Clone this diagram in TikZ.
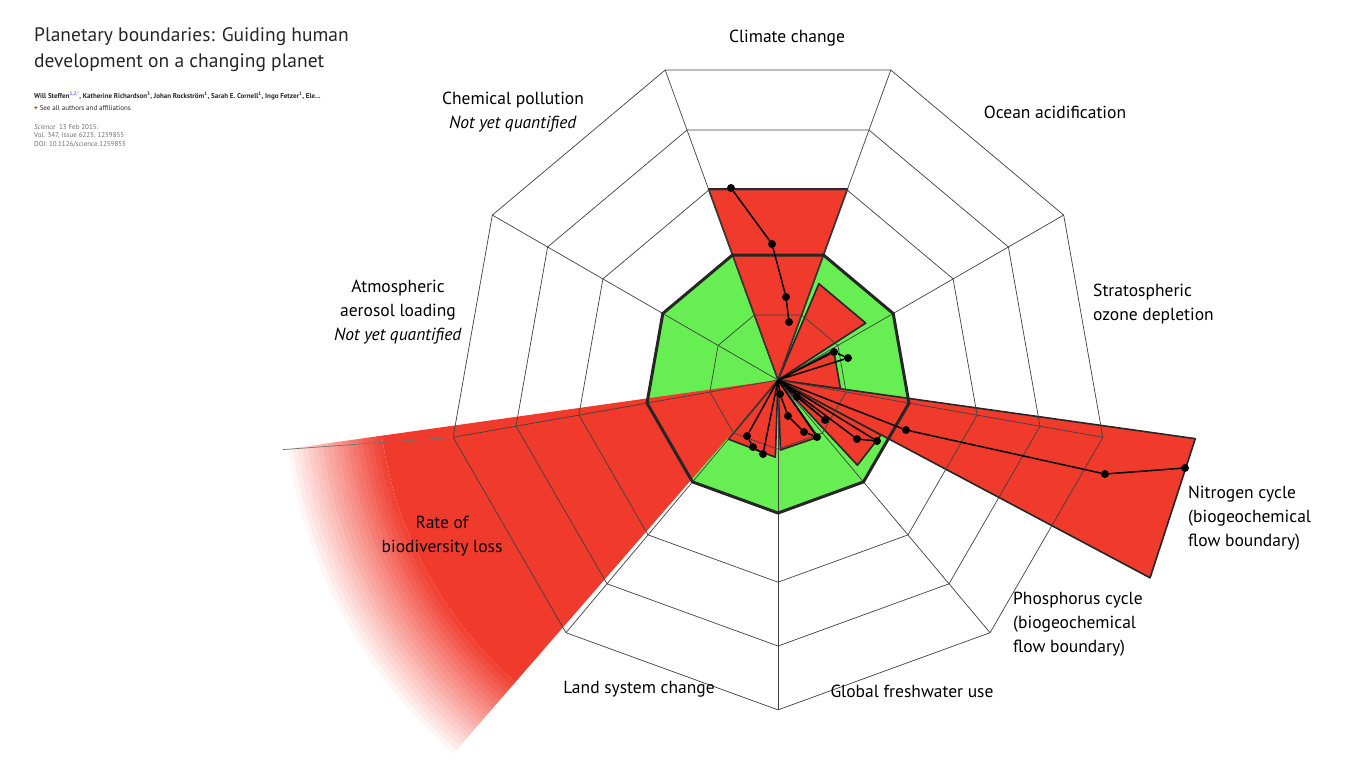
\documentclass[tikz,border=0pt]{standalone}
\usepackage{fontspec}
\setmainfont{PT Sans}
\usetikzlibrary{positioning}
\definecolor{pbred}{RGB}{240,58,44}
\definecolor{pbgreen}{RGB}{102,238,82}
\definecolor{pbgray}{RGB}{110,110,110}
\newcommand\pbwedge[4]{% mid, from, to, apothem
  \fill[pbred] (0,0) -- (#2:{#4/cos(#2-#1)}) -- (#1:#4) -- (#3:{#4/cos(#3-#1)}) -- cycle;
  \draw[wedgeline] (0,0) -- (#2:{#4/cos(#2-#1)}) -- (#1:#4) -- (#3:{#4/cos(#3-#1)}) -- cycle;}
\newcommand\pbring[2][gridline]{%
  \draw[#1] (-110:{#2/cos(20)}) \foreach \a in {-70,-30,...,210} { -- (\a:{#2/cos(20)}) } -- cycle;}
\tikzset{
  gridline/.style={draw=black!75,line width=0.7pt},
  wedgeline/.style={draw=black!85,line width=1.6pt,line join=round},
  bound/.style={draw=black!85,line width=3pt,line join=round},
  traj/.style={draw=black,line width=1.5pt},
  dot/.style={circle,fill=black,inner sep=0pt,minimum size=8pt},
  lab/.style={font=\fontsize{17.5}{24}\selectfont,align=center,inner sep=0pt},
  meta/.style={font=\fontsize{7}{8.5}\selectfont,text=pbgray,inner sep=0pt,anchor=west,align=left},
}
\begin{document}
\begin{tikzpicture}[x=1pt,y=-1pt]
\useasboundingbox (0,0) rectangle (1357,761);
\clip (0,0) rectangle (1357,761);
\coordinate (c) at (778,380);

\begin{scope}[shift={(c)}]
% safe zone
\fill[pbgreen] (-110:{125/cos(20)}) \foreach \a in {-70,-30,...,210} { -- (\a:{125/cos(20)}) } -- cycle;
% biodiversity, fading out
\fill[pbred] (0,0) -- (131:400) arc (131:172:400) -- cycle;
\foreach \r [count=\i] in {400,405,...,495}
  \fill[pbred!\the\numexpr100-\i*5\relax!white] (131:\r) arc (131:172:\r) -- (172:\r+5.5) arc (172:131:\r+5.5) -- cycle;
\draw[gridline,draw=black!55] (170:{310/cos(20)}) -- (172:500);
% other boundaries
\pbwedge{-90}{-110}{-70}{191}
\pbwedge{-50}{-67}{-33}{100}
\pbwedge{-10}{-28}{8}{60}
\pbwedge{38}{28}{47}{115}
\pbwedge{18}{8}{28}{415}
\pbwedge{71}{55}{88}{67}
\pbwedge{111}{92}{130}{73}
% grid
\foreach \h in {65,190,250,310} { \pbring{\h} }
\foreach \a in {-110,-70,...,210} { \draw[gridline] (0,0) -- (\a:{310/cos(20)}); }
\pbring[bound]{125}
\end{scope}

% control variables
\node[dot] (cc1) at (731,188) {};
\node[dot] (cc2) at (772,244) {};
\node[dot] (cc3) at (786,297) {};
\node[dot] (cc4) at (789,322) {};
\draw[traj] (cc1) -- (cc2) -- (cc3) -- (cc4);
\node[dot] (oz1) at (834,352) {};
\node[dot] (oz2) at (848,358) {};
\draw[traj] (c) -- (oz1) -- (oz2) -- (c);
\node[dot] (n1) at (906,430) {};
\node[dot] (n2) at (1105,474) {};
\node[dot] (n3) at (1185,468) {};
\draw[traj] (c) -- (n1) -- (n2) -- (n3);
\node[dot] (p1) at (797,397) {};
\node[dot] (p2) at (825,420) {};
\node[dot] (p3) at (857,439) {};
\node[dot] (p4) at (877,441) {};
\draw[traj] (c) -- (p3) -- (p4) -- (c);
\draw[traj] (c) -- (p1) -- (p2) -- (c);
\node[dot] (f1) at (780,394) {};
\node[dot] (f2) at (788,416) {};
\node[dot] (f3) at (804,432) {};
\node[dot] (f4) at (817,437) {};
\draw[traj] (c) -- (f1) -- (f2) -- (f3) -- (f4) -- (c);
\node[dot] (l1) at (747,436) {};
\node[dot] (l2) at (753,447) {};
\node[dot] (l3) at (763,454) {};
\draw[traj] (c) -- (l1) -- (l2) -- (l3) -- (c);

% labels
\node[lab] (clim) at (787,38) {Climate change};
\node[lab] (ocean) at (1055,112) {Ocean acidification};
\node[lab,align=left,anchor=west] (ozone) at (1093,304) {Stratospheric\\ozone depletion};
\node[lab,align=left,anchor=west] (nitro) at (1188,518) {Nitrogen cycle\\(biogeochemical\\flow boundary)};
\node[lab,align=left,anchor=west] (phos) at (1013,624) {Phosphorus cycle\\(biogeochemical\\flow boundary)};
\node[lab] (water) at (912,691) {Global freshwater use};
\node[lab] (land) at (639,689) {Land system change};
\node[lab] (bio) at (442,536) {Rate of\\biodiversity loss};
\node[lab] (aero) at (398,312) {Atmospheric\\aerosol loading\\\textit{Not yet quantified}};
\node[lab] (chem) at (513,112) {Chemical pollution\\\textit{Not yet quantified}};

% article header
\node[font=\fontsize{19.5}{26}\selectfont,text=black!85,align=left,anchor=north west,inner sep=0pt] (title) at (34,27) {Planetary boundaries: Guiding human\\development on a changing planet};
\node[meta,text=black!85,font=\bfseries\fontsize{7}{8.5}\selectfont] (auth) at (34,96) {Will Steffen\textsuperscript{\color{blue!60}1,2,*}, Katherine Richardson\textsuperscript{3}, Johan Rockström\textsuperscript{1}, Sarah E. Cornell\textsuperscript{1}, Ingo Fetzer\textsuperscript{1}, Ele...};
\node[meta,text=black!85] (all) at (34,108) {\textcolor{red}{\textbf{+}} See all authors and affiliations};
\node[meta,anchor=north west] (cite) at (34,124) {\textit{Science}\ \ 13 Feb 2015:\\Vol. 347, Issue 6223, 1259855\\DOI: 10.1126/science.1259855};
\end{tikzpicture}
\end{document}
